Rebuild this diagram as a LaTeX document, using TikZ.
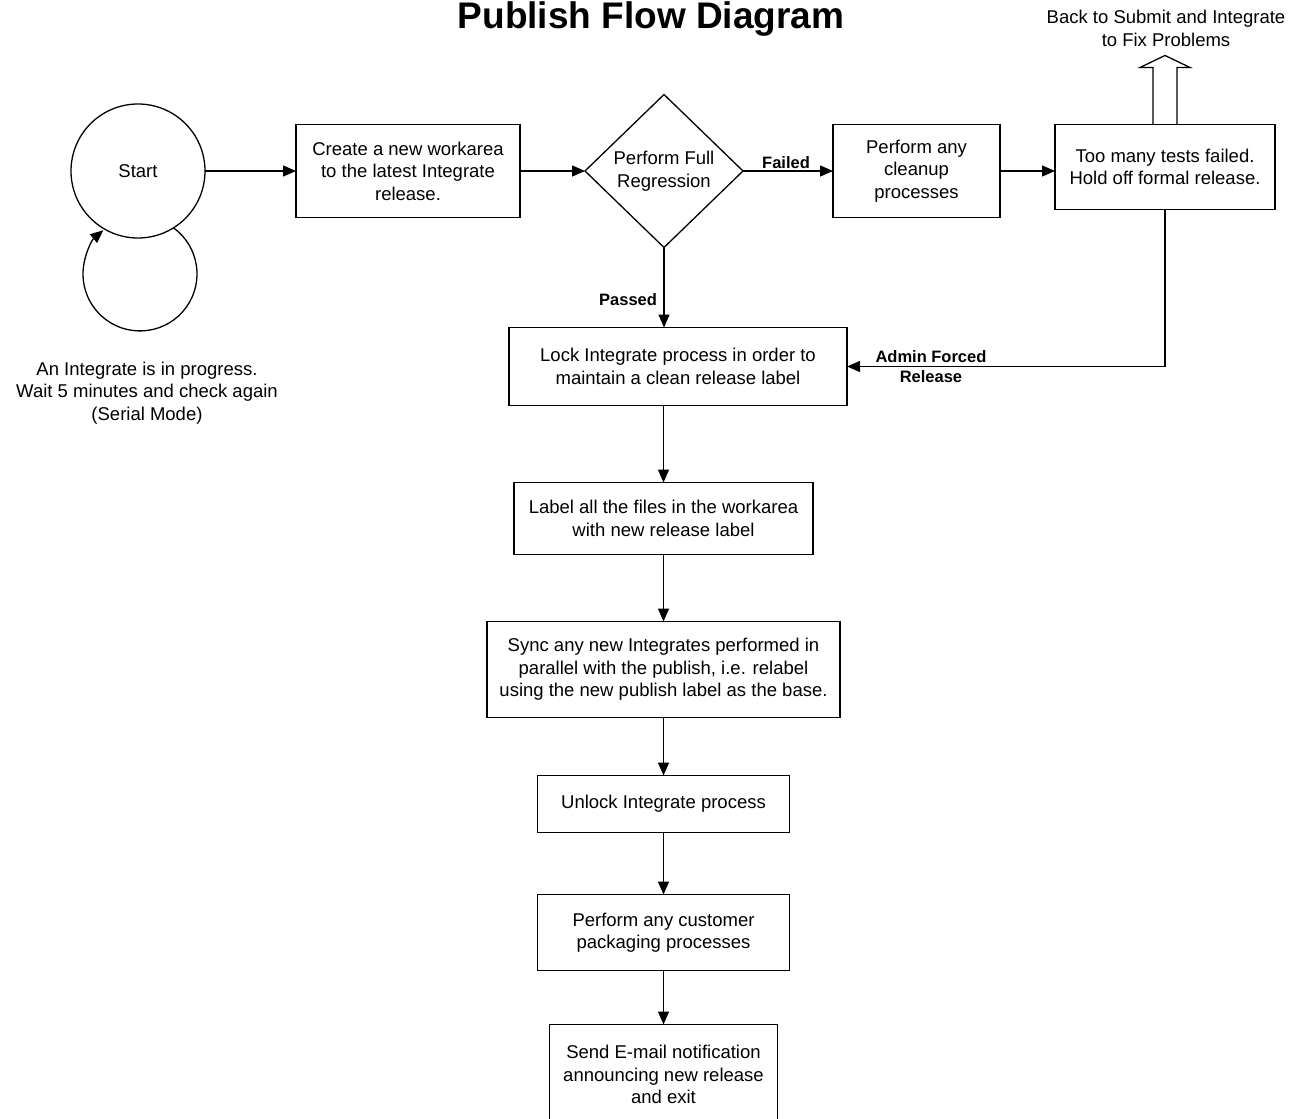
\documentclass[tikz,border=0pt]{standalone}
\usepackage{fontspec}
\setmainfont{Liberation Sans}
\usetikzlibrary{arrows.meta, positioning, shapes.geometric}

\begin{document}
\begin{tikzpicture}[x=1pt, y=1pt, >={Triangle[length=13pt,width=11pt]}, line width=1.3pt,
  every node/.style={font=\fontsize{18.5}{22.5}\selectfont, align=center, outer sep=0pt},
  box/.style={draw, rectangle, inner sep=2pt},
  decision/.style={draw, diamond, inner sep=0pt, minimum width=158pt, minimum height=153pt},
  startstate/.style={draw, circle, minimum size=134pt},
  tag/.style={font=\fontsize{16.5}{20}\selectfont\bfseries, inner sep=2pt}]
\useasboundingbox (0,0) rectangle (1289,-1118);

% title
  \node (title) [anchor=base, font=\fontsize{37}{40}\selectfont\bfseries] at (651,-29) {Publish Flow Diagram};

% define the steps of the flow
  \node[startstate] (start) at (138,-171) {Start};
  \node[box, minimum width=224pt, minimum height=93pt] (create) [right=91pt of start] {Create a new workarea\\to the latest Integrate\\release.};
  \node[decision] (reg) [right=65pt of create] {Perform Full\\Regression};
  \node[box, minimum width=167pt, minimum height=93pt] (clean) [right=90pt of reg] {Perform any\\cleanup\\processes};
  \node[box, minimum width=220pt, minimum height=85pt] (fail) [right=55pt of clean, yshift=4pt] {Too many tests failed.\\Hold off formal release.};
  \node[box, minimum width=338pt, minimum height=78pt] (lock) [below=80pt of reg, xshift=14pt] {Lock Integrate process in order to\\maintain a clean release label};
  \node[box, minimum width=299pt, minimum height=72pt] (label) [below=77pt of lock, xshift=-14.5pt] {Label all the files in the workarea\\with new release label};
  \node[box, minimum width=353pt, minimum height=96pt] (sync) [below=67pt of label] {Sync any new Integrates performed in\\parallel with the publish, i.e. relabel\\using the new publish label as the base.};
  \node[box, minimum width=252pt, minimum height=57pt] (unlock) [below=58pt of sync] {Unlock Integrate process};
  \node[box, minimum width=252pt, minimum height=76pt] (package) [below=62pt of unlock] {Perform any customer\\packaging processes};
  \node[box, minimum width=228pt, minimum height=100pt] (email) [below=54pt of package] {Send E-mail notification\\announcing new release\\and exit};

% notes
  \node (wait) at (147,-393) {An Integrate is in progress.\\Wait 5 minutes and check again\\(Serial Mode)};
  \node (back) at (1166,-28.5) {Back to Submit and Integrate\\to Fix Problems};

% define the links
  \path[->] (start)  edge (create)
            (create) edge (reg)
            (reg)    edge node[tag, above, xshift=-2pt] {Failed} (clean)
            (clean)  edge (clean.east -| fail.west)
            (label)  edge (sync)
            (sync)   edge (unlock)
            (unlock) edge (package)
            (package) edge (email);
  \draw[->] (reg.south) -- (reg.south |- lock.north) node[tag, left, pos=0.65, xshift=-5pt] {Passed};
  \draw[->] (fail.south) |- (lock.east) node[tag, pos=0.868] {Admin Forced\\Release};
  \draw[->] (label.north |- lock.south) -- (label.north);
  \draw[->] (start.-58) arc[start angle=54, end angle=-230, radius=57];

% hollow arrow back to submit
  \draw (fail.north) ++(-12,0) -- ++(0,57) -- ++(-13,0) -- ++(25,12) -- ++(25,-12) -- ++(-13,0) -- ++(0,-57);
\end{tikzpicture}
\end{document}
